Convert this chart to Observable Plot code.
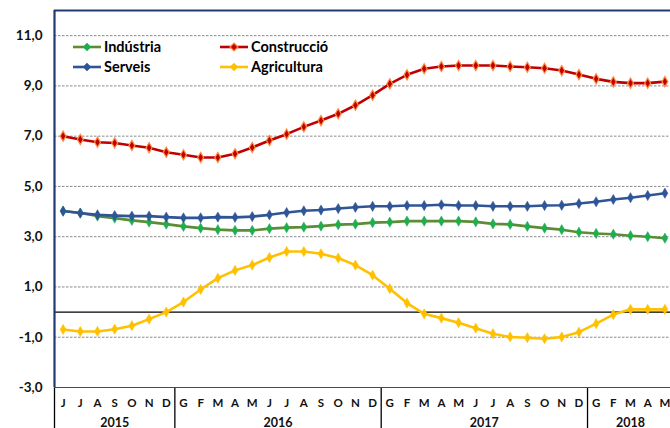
<!DOCTYPE html>
<html>
<head>
<meta charset="utf-8">
<script src="https://cdn.jsdelivr.net/npm/d3@7"></script>
<script src="https://cdn.jsdelivr.net/npm/@observablehq/plot@0.6"></script>
<style>
  html, body { margin: 0; padding: 0; background: #fff; overflow: hidden; }
  #wrap { position: relative; width: 670px; height: 428px; font-family: Lato, "Open Sans", sans-serif; }
  .legend { position: absolute; font-weight: bold; font-size: 14.5px; color: #000; display: flex; align-items: center; }
  .legend svg { margin-right: 3px; }
</style>
</head>
<body>
<div id="wrap"></div>
<script>
const months = ["J","J","A","S","O","N","D",
  "G","F","M","A","M","J","J","A","S","O","N","D",
  "G","F","M","A","M","J","J","A","S","O","N","D",
  "G","F","M","A","M"];
const years = ["2015","2016","2017","2018"];
const yearStart = [0, 7, 19, 31];
const yearEnd = [6, 18, 30, 35];

const industria = [4.02,3.94,3.82,3.74,3.65,3.58,3.50,3.41,3.34,3.28,
  3.25,3.25,3.32,3.36,3.38,3.42,3.48,3.50,3.56,3.58,3.62,3.62,3.62,
  3.62,3.59,3.51,3.49,3.41,3.34,3.28,3.18,3.13,3.10,3.04,3.00,2.94];
const construccio = [7.00,6.87,6.76,6.73,6.63,6.54,6.36,6.26,6.15,6.15,
  6.30,6.55,6.83,7.08,7.37,7.62,7.89,8.23,8.63,9.08,9.44,9.68,9.77,
  9.81,9.81,9.81,9.77,9.74,9.70,9.61,9.45,9.28,9.16,9.11,9.11,9.17];
const serveis = [4.02,3.94,3.87,3.84,3.82,3.82,3.78,3.75,3.75,3.78,
  3.77,3.80,3.87,3.96,4.03,4.06,4.12,4.17,4.21,4.21,4.24,4.24,4.27,
  4.24,4.24,4.21,4.21,4.21,4.24,4.25,4.32,4.39,4.48,4.55,4.64,4.73];
const agricultura = [-0.69,-0.77,-0.77,-0.68,-0.54,-0.28,0.00,0.40,0.90,1.35,
  1.66,1.87,2.17,2.41,2.41,2.32,2.15,1.87,1.47,0.93,0.36,-0.07,-0.24,
  -0.42,-0.64,-0.86,-0.99,-1.02,-1.06,-0.99,-0.80,-0.46,-0.10,0.11,0.11,0.11];

const seriesNames = ["Indústria","Construcció","Serveis","Agricultura"];
const seriesValues = [industria, construccio, serveis, agricultura];
const lineColors = ["#5E8C35","#C00000","#2F5597","#FFC000"];
const dotFill = ["#1FAE4E","#C00000","#2F5597","#FFC000"];
const dotStroke = ["#1FAE4E","#FF8C40","#2F5597","#FFC000"];

const yTicks = [-3,-1,1,3,5,7,9,11];
const gridVals = [-1,1,3,5,7,9,11];

const data = [];
seriesNames.forEach((s, si) => seriesValues[si].forEach((v, i) => data.push({series: s, si, i, v})));
const monthData = months.map((m, i) => ({i, m}));
const yearData = years.map((y, k) => ({y, x: (yearStart[k] + yearEnd[k]) / 2}));
const seps = [-0.5, ...yearStart.slice(1).map(s => s - 0.5)];

const fontFam = "Lato, 'Open Sans', sans-serif";

const marks = [
  Plot.ruleY(gridVals, {stroke: "#8a8a8a", strokeDasharray: "2.5,1.5", strokeWidth: 1}),
  Plot.ruleY([0], {stroke: "#000", strokeWidth: 1.3}),
  Plot.ruleX(seps, {y1: -3, y2: -4.8, stroke: "#000", strokeWidth: 1.3}),
];
seriesNames.forEach((s, si) => {
  const d = data.filter(r => r.si === si);
  marks.push(Plot.line(d, {x: "i", y: "v", stroke: lineColors[si], strokeWidth: 2.6}));
  marks.push(Plot.dot(d, {x: "i", y: "v", symbol: "diamond", r: 3.1, fill: dotFill[si], stroke: dotStroke[si], strokeWidth: si === 1 ? 1.2 : 0.5}));
});
marks.push(
  Plot.ruleY([-3], {stroke: "#2F4C8A", strokeWidth: 1.2}),
  Plot.ruleY([12], {stroke: "#1F3A74", strokeWidth: 2.2}),
  Plot.ruleX([-0.5], {y1: -3, y2: 12, stroke: "#1F3A74", strokeWidth: 2.2}),
  Plot.axisY({ticks: yTicks, tickSize: 0, tickPadding: 12, tickFormat: d => d.toFixed(1).replace(".", ","), fontWeight: "bold", fontSize: 13.5, fill: "#111", label: null}),
  Plot.text(monthData, {x: "i", y: () => -3, text: "m", dy: 16, fontWeight: "bold", fontSize: 11.5, fill: "#111"}),
  Plot.text(yearData, {x: "x", y: () => -3, text: "y", dy: 35, fontWeight: "bold", fontSize: 12.5, fill: "#111"})
);

const chart = Plot.plot({
  width: 670,
  height: 428,
  marginTop: 10,
  marginBottom: 41,
  marginLeft: 54,
  marginRight: 0,
  style: {fontFamily: fontFam, background: "#fff", overflow: "visible"},
  x: {type: "linear", domain: [-0.5, 35.5], range: [54, 673], axis: null},
  y: {domain: [-3, 12], axis: null},
  marks
});
const wrap = document.getElementById("wrap");
wrap.appendChild(chart);

// legend
const legendPos = [[73, 38], [220, 38], [73, 58], [220, 58]];
seriesNames.forEach((s, si) => {
  const div = document.createElement("div");
  div.className = "legend";
  div.style.left = legendPos[si][0] + "px";
  div.style.top = legendPos[si][1] + "px";
  div.innerHTML = `<svg width="28" height="14"><line x1="0" x2="28" y1="7" y2="7" stroke="${lineColors[si]}" stroke-width="2.6"/><path d="M14,3 L18,7 L14,11 L10,7 Z" fill="${dotFill[si]}" stroke="${dotStroke[si]}" stroke-width="${si===1?1.2:0.5}"/></svg><span>${s}</span>`;
  wrap.appendChild(div);
});
</script>
</body>
</html>
